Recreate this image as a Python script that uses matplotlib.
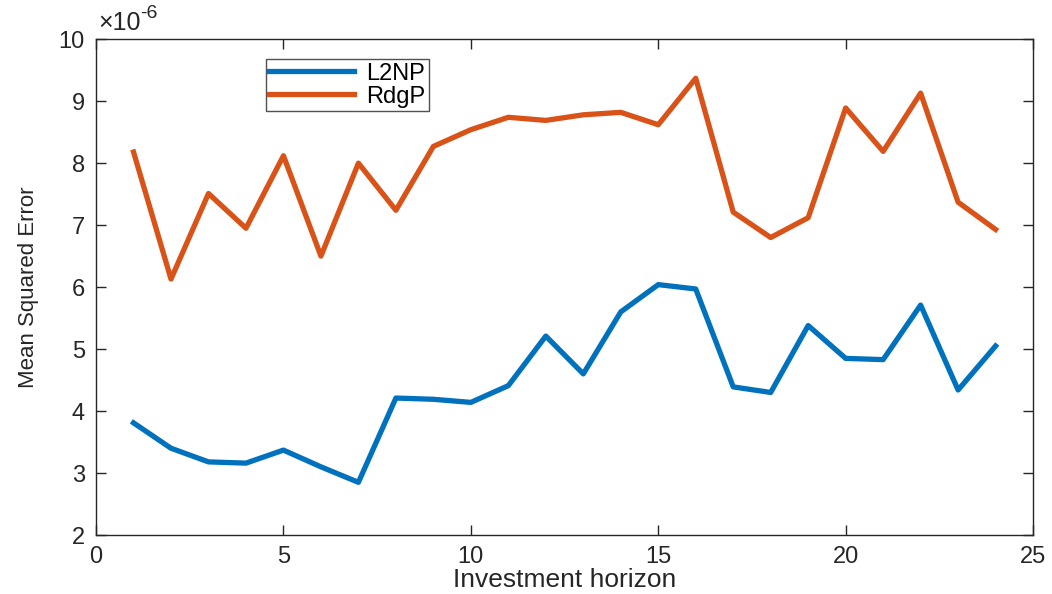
import matplotlib.pyplot as plt
import numpy as np

plt.rcParams['font.family'] = ['Liberation Sans', 'DejaVu Sans']

# Mean squared error per investment horizon, in units of 1e-6
horizon = list(range(1, 25))
mse_l2np = [3.81, 3.40, 3.18, 3.16, 3.37, 3.10, 2.85, 4.21, 4.19, 4.14, 4.41, 5.21,
            4.60, 5.60, 6.04, 5.97, 4.39, 4.30, 5.38, 4.85, 4.83, 5.71, 4.34, 5.05]
mse_rdgp = [8.18, 6.13, 7.51, 6.95, 8.12, 6.50, 8.00, 7.24, 8.27, 8.54, 8.74, 8.69,
            8.78, 8.82, 8.62, 9.37, 7.21, 6.80, 7.12, 8.89, 8.19, 9.13, 7.37, 6.93]
series_names = ['L2NP', 'RdgP']

blue = '#0072BD'
orange = '#D95319'
axis_grey = '#262626'

fig = plt.figure(figsize=(10.52, 5.94), dpi=100)
ax = fig.add_axes([0.0913, 0.0993, 0.8907, 0.8347])

ax.plot(horizon, mse_l2np, color=blue, lw=3.8, label=series_names[0])
ax.plot(horizon, mse_rdgp, color=orange, lw=3.8, label=series_names[1])

ax.set_xlim(0, 25)
ax.set_ylim(2, 10)
ax.set_xticks(np.arange(0, 26, 5))
ax.set_yticks(np.arange(2, 11))

# exponent label in the MATLAB style: x10 with a raised -6
base = ax.text(0.002, 1.008, '\u00d710', transform=ax.transAxes, fontsize=18,
               color=axis_grey, ha='left', va='bottom')
ax.annotate('-6', xy=(1.0, 0.55), xycoords=base, fontsize=14,
            color=axis_grey, ha='left', va='bottom')

ax.tick_params(direction='in', length=7, width=1, colors=axis_grey,
               labelsize=17, top=True, right=True, pad=8)
for sp in ax.spines.values():
    sp.set_color(axis_grey)
    sp.set_linewidth(1)

ax.set_xlabel('Investment horizon', fontsize=19, color=axis_grey, labelpad=0)
ax.set_ylabel('Mean Squared Error', fontsize=16, color=axis_grey, labelpad=14)

leg = ax.legend(loc='upper left', bbox_to_anchor=(0.181, 0.96), fontsize=17,
                frameon=True, fancybox=False, handlelength=3.6, borderpad=0.15,
                labelspacing=0.05, handletextpad=0.5, borderaxespad=0)
leg.get_frame().set_edgecolor(axis_grey)
leg.get_frame().set_linewidth(1)

plt.savefig('out.png', dpi=100)
